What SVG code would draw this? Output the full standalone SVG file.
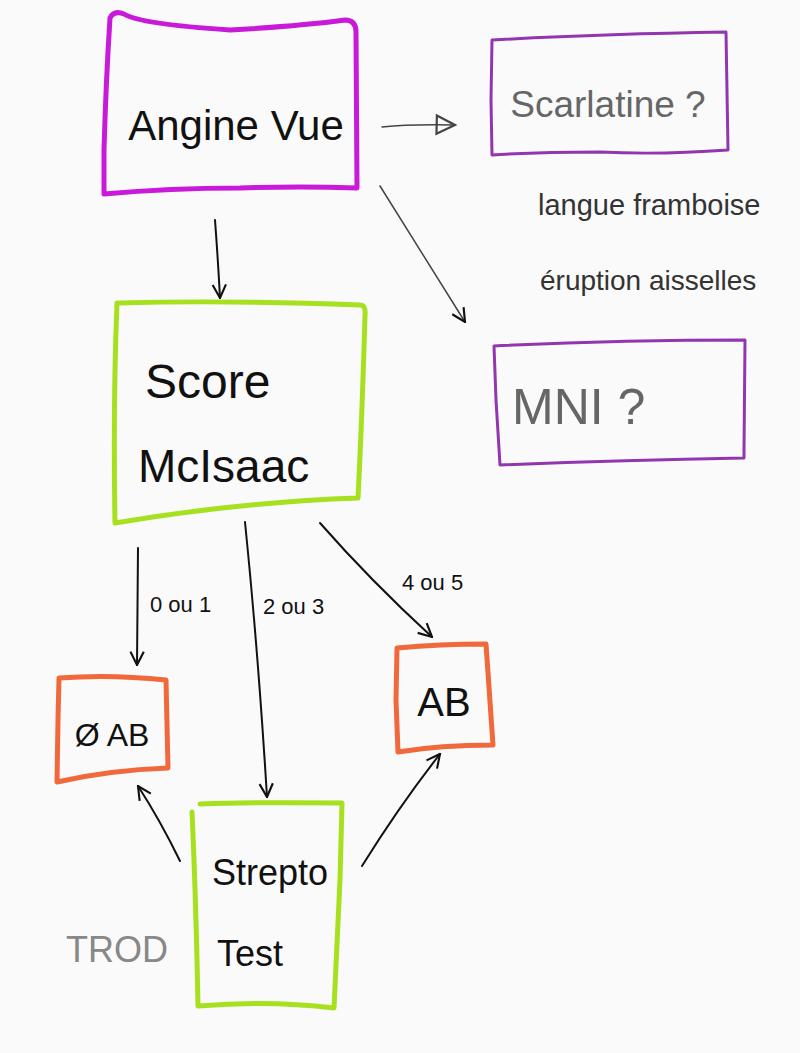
<svg xmlns="http://www.w3.org/2000/svg" width="800" height="1053" viewBox="0 0 800 1053">
<style>
.bx{fill:none;stroke-linejoin:round;stroke-linecap:round}
.mag{stroke:#c81ad8;stroke-width:5}
.pur{stroke:#9236b0;stroke-width:3}
.lime{stroke:#a6e01e;stroke-width:5}
.org{stroke:#f0683c;stroke-width:5}
.t{font-family:"Liberation Sans","DejaVu Sans",sans-serif}
.dk{fill:#111}
.gr{fill:#666}
.con path{fill:none;stroke:#111;stroke-width:2;stroke-linecap:round}
.con path.thin{stroke:#444;stroke-width:1.5}
</style>
<defs>
<marker id="ah" viewBox="0 0 12 12" refX="11" refY="6" markerWidth="16" markerHeight="16" markerUnits="userSpaceOnUse" orient="auto">
<path d="M1,1 L11,6 L1,11" fill="none" stroke="#111" stroke-width="1.6"/>
</marker>
<marker id="ahg" viewBox="0 0 12 12" refX="11" refY="6" markerWidth="22" markerHeight="22" markerUnits="userSpaceOnUse" orient="auto">
<path d="M1,1 L11,6 L1,11 Z" fill="none" stroke="#444" stroke-width="1.2"/>
</marker>
</defs>
<rect width="800" height="1053" fill="#fafafa"/>
<g id="angine">
<path class="bx mag" d="M110,18 Q114,10 124,14 Q140,24 230,30 Q300,26 345,20 Q356,20 356,32 L357,188 Q300,186 240,188 Q170,188 104,194 L104,150 Q106,80 110,18"/>
<text class="t dk" x="236" y="140" font-size="42" text-anchor="middle">Angine Vue</text>
</g>
<g id="scarlatine">
<path class="bx pur" d="M492,40 Q600,34 726,32 L728,150 Q660,155 600,152 Q540,152 492,155 L491,100 Z"/>
<text class="t gr" x="608" y="117" font-size="37" text-anchor="middle">Scarlatine ?</text>
</g>
<text class="t" x="538" y="215" font-size="29" fill="#333">langue framboise</text>
<text class="t" x="540" y="290" font-size="28" fill="#333">éruption aisselles</text>
<g id="mni">
<path class="bx pur" d="M494,346 Q620,340 745,340 L744,452 L744,458 Q620,460 500,465 L496,400 Z"/>
<text class="t gr" x="512" y="424" font-size="50">MNI ?</text>
</g>
<g id="score">
<path class="bx lime" d="M118,303 Q230,300 360,305 Q366,305 365,315 Q362,420 358,498 Q240,502 115,523 Q113,400 117,303"/>
<text class="t dk" x="145" y="398" font-size="48">Score</text>
<text class="t dk" x="138" y="482" font-size="46">McIsaac</text>
</g>
<g id="noab">
<path class="bx org" d="M59,678 Q110,674 166,680 L168,768 Q110,770 57,782 L58,720 Z"/>
<text class="t dk" x="112" y="746" font-size="32" text-anchor="middle">Ø AB</text>
</g>
<g id="ab">
<path class="bx org" d="M397,648 Q440,644 486,644 L493,745 Q440,745 398,752 L396,700 Z"/>
<text class="t dk" x="444" y="716" font-size="40" text-anchor="middle">AB</text>
</g>
<g id="strepto">
<path class="bx lime" d="M200,804 Q260,802 342,803 L340,880 Q337,950 334,1008 Q270,1000 198,1006 Q196,900 192,812"/>
<text class="t dk" x="270" y="885" font-size="36" text-anchor="middle">Strepto</text>
<text class="t dk" x="250" y="966" font-size="36" text-anchor="middle">Test</text>
</g>
<text class="t" x="66" y="962" font-size="36" fill="#888" font-weight="300">TROD</text>
<g id="connectors" class="con">
<path class="thin" d="M382,127 Q410,124 455,125" marker-end="url(#ahg)"/>
<path class="thin" d="M380,186 Q420,250 465,322" marker-end="url(#ah)"/>
<path d="M215,220 Q218,260 220,298" marker-end="url(#ah)"/>
<path d="M138,548 L137,665" marker-end="url(#ah)"/>
<path d="M245,522 Q258,650 267,797" marker-end="url(#ah)"/>
<path d="M320,523 Q370,580 432,637" marker-end="url(#ah)"/>
<path d="M180,861 Q160,820 138,786" marker-end="url(#ah)"/>
<path d="M362,866 Q400,805 440,754" marker-end="url(#ah)"/>
</g>
<g id="labels">
<text class="t dk" x="150" y="612" font-size="22">0 ou 1</text>
<text class="t dk" x="263" y="614" font-size="22">2 ou 3</text>
<text class="t dk" x="402" y="590" font-size="22">4 ou 5</text>
</g>
</svg>
